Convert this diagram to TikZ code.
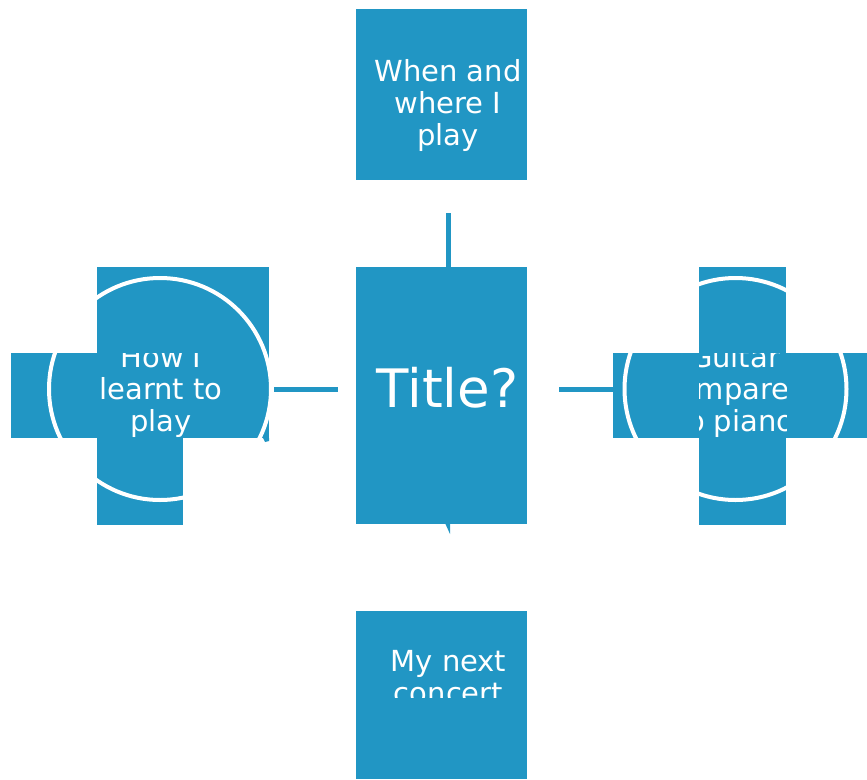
\documentclass[tikz,border=0pt]{standalone}
\usepackage{fontspec}
\setmainfont{DejaVu Sans}
\definecolor{sablue}{HTML}{2196C4}
\tikzset{
  blk/.style 2 args={fill=sablue, draw=none, inner sep=0pt, outer sep=0pt,
    minimum width=#1pt, minimum height=#2pt, rectangle},
  ring/.style={circle, draw=white, line width=4pt, inner sep=0pt, outer sep=0pt, minimum size=222pt},
  lbl/.style={text=white, inner sep=0pt, align=center, anchor=base,
    font=\fontsize{29}{32}\selectfont},
  conn/.style={draw=sablue, line width=5pt}
}
\begin{document}
\begin{tikzpicture}[x=1pt,y=-1pt]
\useasboundingbox (0,0) rectangle (867,779);
% top box
\node[blk={171}{171}] (when) at (441.5,94.5) {};
\node[lbl] (whent) at (448,145) {When and\\where I\\play};
% centre box
\node[blk={171}{257}] (title) at (441.5,395.5) {};
\fill[sablue] (445,523) -- (450,523) -- (450,534) -- cycle;
\node[text=white, inner sep=0pt, anchor=base, font=\fontsize{53}{60}\selectfont] (titlet) at (447.5,407) {Title?};
% bottom box
\node[blk={171}{168}] (concert) at (441.5,695) {};
\begin{scope}
  \clip (356,611) rectangle (527,697);
  \node[lbl] (concertt) at (448.5,703) {My next\\concert};
\end{scope}
% left shape
\node[blk={172}{171}] (howtop) at (183,352.5) {};
\node[blk={258}{85}] (howbar) at (140,395.5) {};
\node[blk={86}{87}] (howlow) at (140,481.5) {};
\fill[sablue] (263,438) -- (269,438) -- (269,441) -- (265,442) -- cycle;
\node[ring] (how) at (160,389) {};
\begin{scope}
  \clip (11,353) rectangle (269,438);
  \node[lbl] (howt) at (161,431) {How I\\learnt to\\play};
\end{scope}
% right shape
\node[blk={87}{258}] (guitv) at (742.5,396) {};
\node[blk={254}{85}] (guitbar) at (740,395.5) {};
\node[ring] (guit) at (735.5,389) {};
\begin{scope}
  \clip (699,353) rectangle (786,438);
  \node[lbl] (guitt) at (735,431) {Guitar\\compared\\to piano};
\end{scope}
% connectors
\draw[conn, shorten <=33pt] (when.south -| 448,0) -- (title.north -| 448,0);
\draw[conn, shorten <=5pt, shorten >=18pt] (howbar.east |- 0,389) -- (title.west |- 0,389);
\draw[conn, shorten <=32pt] (title.east |- 0,389) -- (guitbar.west |- 0,389);
\end{tikzpicture}
\end{document}
